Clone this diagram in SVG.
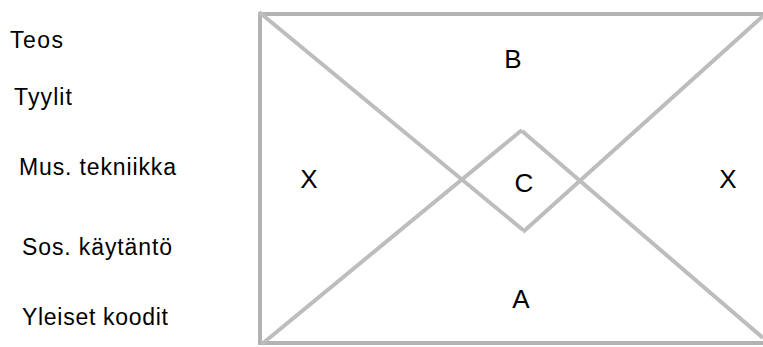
<svg xmlns="http://www.w3.org/2000/svg" width="763" height="347" viewBox="0 0 763 347">
<style>
.ln{stroke:#bdbdbd;stroke-width:4;fill:none;stroke-linecap:butt}
.fr{stroke:#b3b3b3;stroke-width:4;fill:none}
.lb{font-family:"Liberation Sans",Arial,sans-serif;font-size:23px;fill:#000}
.lt{font-family:"Liberation Sans",Arial,sans-serif;font-size:26px;fill:#000;text-anchor:middle}
</style>
<rect width="763" height="347" fill="#fff"/>
<g id="connectors">
<path class="fr" d="M258 14 H763 M260 12 V345 M260 343 H763"/>
<path class="ln" d="M259 12 L523 230"/>
<path class="ln" d="M262 344 L522 130"/>
<path class="ln" d="M763 16 L523 232"/>
<path class="ln" d="M763 338 L522 131"/>
</g>
<g id="legend">
<text class="lb" x="10" y="48" textLength="53" lengthAdjust="spacing">Teos</text>
<text class="lb" x="14" y="105" textLength="58" lengthAdjust="spacing">Tyylit</text>
<text class="lb" x="19" y="175" textLength="157" lengthAdjust="spacing">Mus. tekniikka</text>
<text class="lb" x="22" y="255" textLength="150" lengthAdjust="spacing">Sos. käytäntö</text>
<text class="lb" x="22" y="325" textLength="146" lengthAdjust="spacing">Yleiset koodit</text>
</g>
<g id="node-B"><text class="lt" x="513" y="68">B</text></g>
<g id="node-X1"><text class="lt" x="309" y="188">X</text></g>
<g id="node-C"><text class="lt" x="524" y="192">C</text></g>
<g id="node-X2"><text class="lt" x="728" y="188">X</text></g>
<g id="node-A"><text class="lt" x="521" y="308">A</text></g>
</svg>
